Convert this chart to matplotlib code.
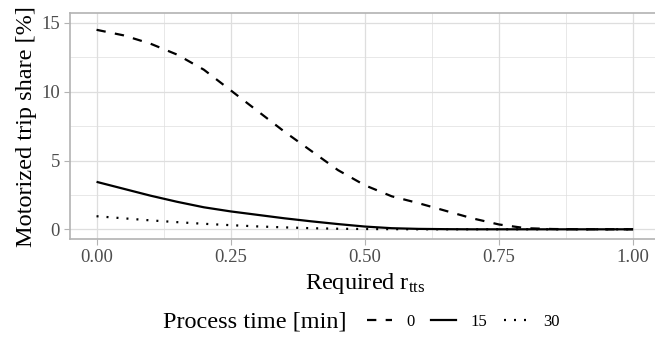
import matplotlib
matplotlib.use("Agg")
import matplotlib.pyplot as plt
from matplotlib.lines import Line2D

plt.rcParams["font.family"] = ["Liberation Serif", "DejaVu Serif"]
plt.rcParams["mathtext.fontset"] = "custom"
plt.rcParams["mathtext.rm"] = "Liberation Serif"
plt.rcParams["mathtext.it"] = "Liberation Serif:italic"

# required r_tts
r_tts = [0.00, 0.05, 0.10, 0.15, 0.20, 0.25, 0.30, 0.35, 0.40, 0.45, 0.50,
         0.55, 0.60, 0.65, 0.70, 0.75, 0.80, 0.85, 0.90, 0.95, 1.00]

# motorized trip share [%] per process time
share_0 = [14.5, 14.1, 13.5, 12.7, 11.6, 10.1, 8.6, 7.1, 5.7, 4.3, 3.2,
           2.4, 1.9, 1.35, 0.8, 0.35, 0.08, 0.02, 0.0, 0.0, 0.0]
share_15 = [3.45, 2.95, 2.45, 2.0, 1.6, 1.3, 1.05, 0.8, 0.58, 0.38, 0.2,
            0.08, 0.03, 0.01, 0.0, 0.0, 0.0, 0.0, 0.0, 0.0, 0.0]
share_30 = [0.95, 0.8, 0.65, 0.52, 0.4, 0.3, 0.21, 0.14, 0.08, 0.04, 0.02,
            0.01, 0.0, 0.0, 0.0, 0.0, 0.0, 0.0, 0.0, 0.0, 0.0]

process_labels = ["0", "15", "30"]

W, H = 655, 341
fig = plt.figure(figsize=(W / 100, H / 100), dpi=100)
# panel runs past the right edge in the reference (image is cropped)
ax = fig.add_axes([69.7 / W, 1 - 239 / H, (660 - 69.7) / W, (239 - 13.3) / H])

lw = 1.6
styles = [dict(dashes=(4.2, 4.2)), dict(linestyle="-"), dict(dashes=(0.9, 3.6))]
handles = []
for ys, st in zip([share_0, share_15, share_30], styles):
    ax.plot(r_tts, ys, color="black", lw=lw, solid_capstyle="butt",
            dash_capstyle="butt", **st)
    handles.append(Line2D([], [], color="black", lw=lw, **st))

ax.set_xlim(-0.05, 1.05)
ax.set_ylim(-0.705, 15.7)
ax.set_xticks([0, 0.25, 0.5, 0.75, 1.0])
ax.set_xticklabels(["0.00", "0.25", "0.50", "0.75", "1.00"])
ax.set_yticks([0, 5, 10, 15])
ax.set_xticks([0.125, 0.375, 0.625, 0.875], minor=True)
ax.set_yticks([2.5, 7.5, 12.5], minor=True)

ax.grid(which="major", color="#DEDEDE", lw=0.9)
ax.grid(which="minor", color="#DEDEDE", lw=0.5)
ax.set_axisbelow(True)
for s in ax.spines.values():
    s.set_color("#B3B3B3")
    s.set_linewidth(1.2)
ax.tick_params(which="major", length=4.5, width=0.8, color="#B3B3B3",
               labelcolor="#4D4D4D", labelsize=13.5, pad=2.5)
ax.tick_params(which="minor", length=0)

ax.set_xlabel("Required $\\mathrm{r_{tts}}$", fontsize=17.5, labelpad=4)
ax.set_ylabel("Motorized trip share [%]", fontsize=17.5, labelpad=3)

fig.text(163 / W, 1 - 322 / H, "Process time [min]", fontsize=17.5,
         ha="left", va="center")
fig.legend(handles, process_labels, loc="center left",
           bbox_to_anchor=(367 / W, 1 - 322 / H), ncol=3, frameon=False,
           fontsize=12, handlelength=1.5, handletextpad=0.85,
           columnspacing=1.0, borderpad=0, borderaxespad=0)

fig.savefig("out.png", dpi=100)
